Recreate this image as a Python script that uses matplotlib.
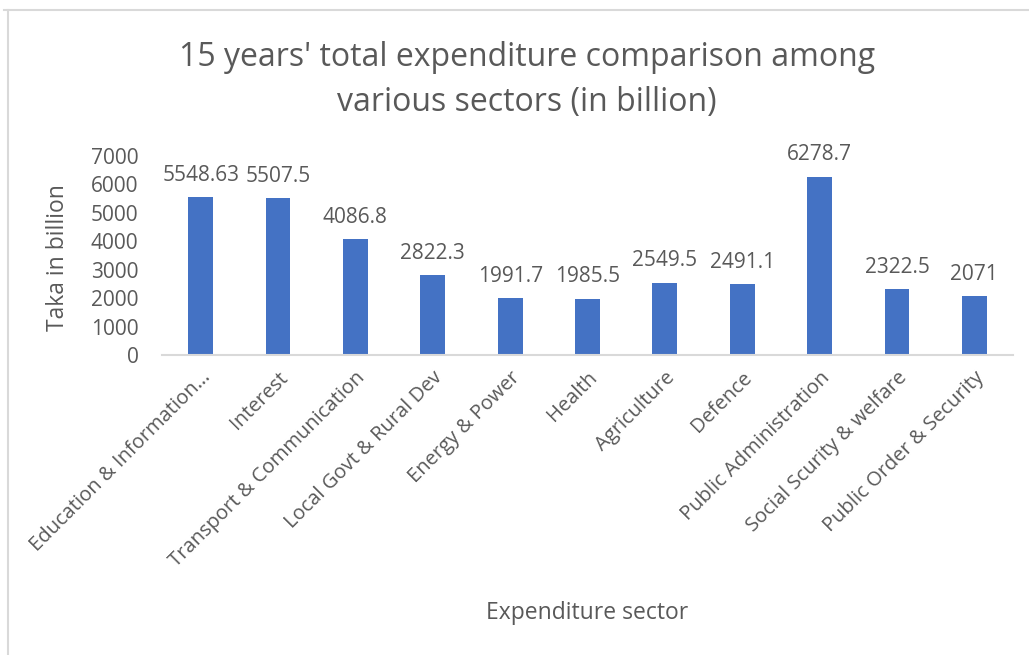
import matplotlib
matplotlib.use("Agg")
import matplotlib.pyplot as plt
from matplotlib.lines import Line2D

sectors = [
    "Education & Information\u2026",
    "Interest",
    "Transport & Communication",
    "Local Govt & Rural Dev",
    "Energy & Power",
    "Health",
    "Agriculture",
    "Defence",
    "Public Administration",
    "Social Scurity & welfare",
    "Public Order & Security",
]
values = [5548.63, 5507.5, 4086.8, 2822.3, 1991.7, 1985.5, 2549.5, 2491.1, 6278.7, 2322.5, 2071]
value_labels = ["5548.63", "5507.5", "4086.8", "2822.3", "1991.7", "1985.5",
                "2549.5", "2491.1", "6278.7", "2322.5", "2071"]
y_ticks = [0, 1000, 2000, 3000, 4000, 5000, 6000, 7000]

plt.rcParams["font.family"] = ["Open Sans", "DejaVu Sans"]
text_color = "#595959"
bar_color = "#4472C4"
grid_color = "#D9D9D9"

W, H = 1029, 655
fig = plt.figure(figsize=(W / 100, H / 100), dpi=100)
fig.patch.set_facecolor("white")

# chart frame (top and left edges)
fig.add_artist(Line2D([4 / W, 1.0], [1 - 10 / H, 1 - 10 / H], color=grid_color, lw=1.5))
fig.add_artist(Line2D([8 / W, 8 / W], [0, 1 - 10 / H], color=grid_color, lw=1.5))

ax = fig.add_axes([162 / W, 1 - 355 / H, (1013 - 162) / W, (355 - 156) / H])
x = range(len(sectors))
bars = ax.bar(x, values, width=0.32, color=bar_color)

ax.set_xlim(-0.5, len(sectors) - 0.5)
ax.set_ylim(0, 7000)
ax.set_yticks(y_ticks)
ax.set_yticklabels([str(t) for t in y_ticks], fontsize=15, color=text_color)
ax.set_xticks(list(x))
ax.set_xticklabels(sectors, rotation=45, ha="right", rotation_mode="anchor",
                   fontsize=14.5, color=text_color)
ax.tick_params(axis="both", length=0)
ax.tick_params(axis="y", pad=17)
ax.tick_params(axis="x", pad=9)

for s in ["top", "right", "left"]:
    ax.spines[s].set_visible(False)
ax.spines["bottom"].set_color(grid_color)
ax.spines["bottom"].set_linewidth(1.5)

for xi, v, lab in zip(x, values, value_labels):
    ax.annotate(lab, (xi, v), xytext=(0, 8), textcoords="offset points",
                ha="center", va="bottom", fontsize=15, color=text_color)

fig.text(527 / W, 1 - 57 / H, "15 years' total expenditure comparison among",
         ha="center", va="center", fontsize=23, color=text_color)
fig.text(527 / W, 1 - 103 / H, "various sectors (in billion)",
         ha="center", va="center", fontsize=23, color=text_color)

fig.text(587 / W, 1 - 613 / H, "Expenditure sector", ha="center", va="center",
         fontsize=16.5, color=text_color)
fig.text(58 / W, 1 - 258 / H, "Taka in billion", ha="center", va="center",
         rotation=90, fontsize=16.5, color=text_color)

fig.savefig("out.png", dpi=100, facecolor="white")
